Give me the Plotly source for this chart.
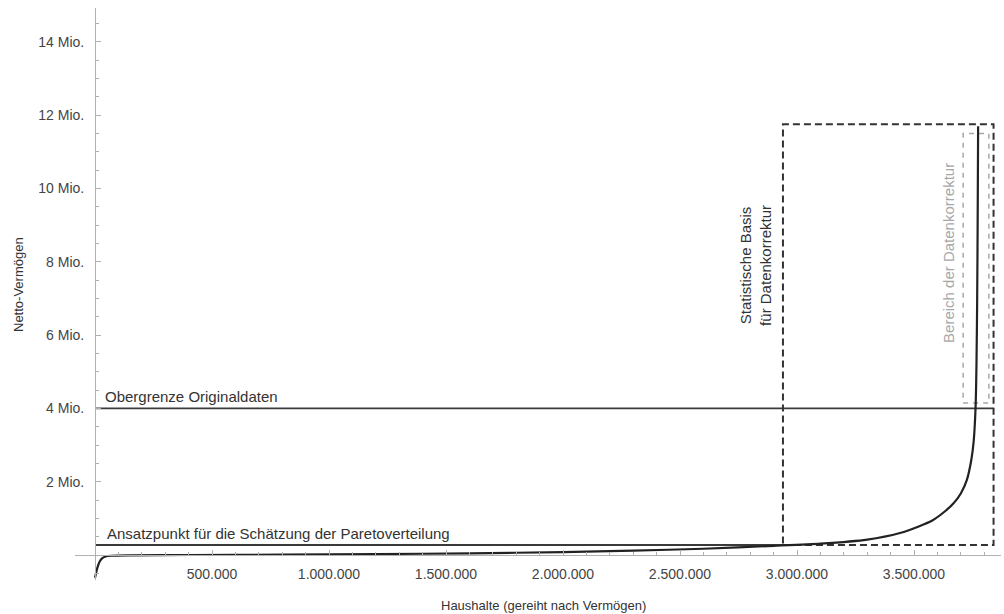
import plotly.graph_objects as go

# --- data ---
households = [0, 5000, 10000, 20000, 30000, 45000, 70000, 150000, 400000, 800000,
              1200000, 1600000, 2000000, 2300000, 2600000, 2900000, 3100000, 3300000,
              3440000, 3520000, 3580000, 3630000, 3670000, 3700000, 3726000, 3745000,
              3755000, 3763000, 3767000, 3770000, 3772000, 3774000]
wealth = [-0.62e6, -0.48e6, -0.35e6, -0.18e6, -0.09e6, -0.04e6, -0.02e6, -0.01e6, 0.0, 0.01e6,
          0.025e6, 0.045e6, 0.08e6, 0.12e6, 0.17e6, 0.25e6, 0.31e6, 0.42e6,
          0.6e6, 0.78e6, 0.95e6, 1.18e6, 1.42e6, 1.68e6, 2.05e6, 2.6e6,
          3.1e6, 4.0e6, 5.2e6, 7.0e6, 9.0e6, 11.7e6]

upper_limit = 4.0e6          # Obergrenze Originaldaten
pareto_start = 0.27e6        # Ansatzpunkt Paretoverteilung
basis_box_x = [2940000, 3840000]
basis_box_y = [0.27e6, 11.75e6]
korr_box_x = [3710000, 3820000]
korr_box_y = [4.15e6, 11.5e6]

x_tickvals = [500000, 1000000, 1500000, 2000000, 2500000, 3000000, 3500000]
x_ticktext = ["500.000", "1.000.000", "1.500.000", "2.000.000", "2.500.000", "3.000.000", "3.500.000"]
y_tickvals = [2e6, 4e6, 6e6, 8e6, 10e6, 12e6, 14e6]
y_ticktext = ["2 Mio.", "4 Mio.", "6 Mio.", "8 Mio.", "10 Mio.", "12 Mio.", "14 Mio."]

X_RANGE = [-85470, 3871795]
Y_RANGE = [-0.682e6, 14.925e6]

FONT = "Liberation Sans, Arial, sans-serif"
TXT = "#333333"
AX = "#b0b0b0"

fig = go.Figure()

# horizontal reference lines
fig.add_trace(go.Scatter(x=[0, basis_box_x[1]], y=[upper_limit, upper_limit], mode="lines",
                         line=dict(color="#3a3a3a", width=1.6), hoverinfo="skip"))
fig.add_trace(go.Scatter(x=[0, basis_box_x[0]], y=[pareto_start, pareto_start], mode="lines",
                         line=dict(color="#3a3a3a", width=2), hoverinfo="skip"))

# dashed boxes
bx = [basis_box_x[0], basis_box_x[1], basis_box_x[1], basis_box_x[0], basis_box_x[0]]
by = [basis_box_y[0], basis_box_y[0], basis_box_y[1], basis_box_y[1], basis_box_y[0]]
fig.add_trace(go.Scatter(x=bx, y=by, mode="lines",
                         line=dict(color="#333333", width=2, dash="7px,4px"), hoverinfo="skip"))
kx = [korr_box_x[0], korr_box_x[1], korr_box_x[1], korr_box_x[0], korr_box_x[0]]
ky = [korr_box_y[0], korr_box_y[0], korr_box_y[1], korr_box_y[1], korr_box_y[0]]
fig.add_trace(go.Scatter(x=kx, y=ky, mode="lines",
                         line=dict(color="#a8a8a8", width=1.5, dash="5px,5px"), hoverinfo="skip"))

# main curve
fig.add_trace(go.Scatter(x=households, y=wealth, mode="lines",
                         line=dict(color="#222222", width=2.2, shape="spline", smoothing=0.6),
                         hoverinfo="skip"))

y_pos = (0 - Y_RANGE[0]) / (Y_RANGE[1] - Y_RANGE[0])
x_pos = (0 - X_RANGE[0]) / (X_RANGE[1] - X_RANGE[0])

fig.update_layout(
    width=1004, height=614,
    margin=dict(l=75, r=3, t=8, b=34),
    paper_bgcolor="white", plot_bgcolor="white",
    showlegend=False,
    font=dict(family=FONT, color=TXT, size=14),
    xaxis=dict(range=X_RANGE, anchor="free", position=y_pos, showgrid=False, zeroline=False,
               showline=True, linecolor=AX, linewidth=1,
               tickmode="array", tickvals=x_tickvals, ticktext=x_ticktext,
               ticks="inside", ticklen=5, tickcolor=AX, tickwidth=1,
               ticklabelstandoff=6,
               tickfont=dict(family=FONT, size=14, color="#444444"),
               minor=dict(tickmode="linear", tick0=0, dtick=100000, ticks="inside",
                          ticklen=3, tickcolor=AX, tickwidth=1)),
    yaxis=dict(range=Y_RANGE, anchor="free", position=x_pos, showgrid=False, zeroline=False,
               showline=True, linecolor=AX, linewidth=1,
               tickmode="array", tickvals=y_tickvals, ticktext=y_ticktext,
               ticks="inside", ticklen=5, tickcolor=AX, tickwidth=1,
               ticklabelstandoff=8,
               tickfont=dict(family=FONT, size=14, color="#444444"),
               minor=dict(tickmode="linear", tick0=0, dtick=500000, ticks="inside",
                          ticklen=3, tickcolor=AX, tickwidth=1)),
)

ann = [
    dict(x=34000, y=upper_limit, xref="x", yref="y", text="Obergrenze Originaldaten",
         xanchor="left", yanchor="bottom", yshift=1, showarrow=False,
         font=dict(size=15, color=TXT, family=FONT)),
    dict(x=43000, y=pareto_start, xref="x", yref="y",
         text="Ansatzpunkt für die Schätzung der Paretoverteilung",
         xanchor="left", yanchor="bottom", yshift=1, showarrow=False,
         font=dict(size=15, color=TXT, family=FONT)),
    dict(x=2825000, y=7.89e6, xref="x", yref="y", text="Statistische Basis<br>für Datenkorrektur",
         textangle=-90, xanchor="center", yanchor="middle", showarrow=False,
         font=dict(size=15, color=TXT, family=FONT)),
    dict(x=3645000, y=8.24e6, xref="x", yref="y", text="Bereich der Datenkorrektur",
         textangle=-90, xanchor="center", yanchor="middle", showarrow=False,
         font=dict(size=15, color="#a8a8a8", family=FONT)),
    dict(x=(543 - 75) / 926, y=(580 - 605) / 572, xref="paper", yref="paper",
         text="Haushalte (gereiht nach Vermögen)", xanchor="center", yanchor="middle",
         showarrow=False, font=dict(size=13, color=TXT, family=FONT)),
    dict(x=(18 - 75) / 926, y=(580 - 285) / 572, xref="paper", yref="paper",
         text="Netto-Vermögen", textangle=-90, xanchor="center", yanchor="middle",
         showarrow=False, font=dict(size=13, color=TXT, family=FONT)),
]
fig.update_layout(annotations=ann)

fig.write_html("out.html", config={"displayModeBar": False},
               post_script="document.body.style.margin='0';document.body.style.overflow='hidden';")
